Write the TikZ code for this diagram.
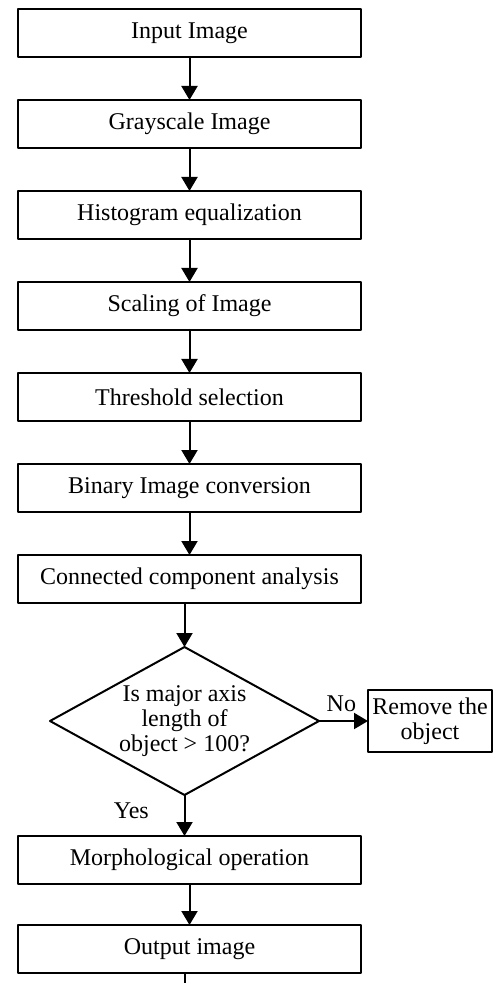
\documentclass[tikz,border=0pt]{standalone}
\usepackage{fontspec}
\setmainfont{Liberation Serif}
\usetikzlibrary{arrows.meta,positioning,shapes.geometric}

\begin{document}
\begin{tikzpicture}[line width=1pt, line cap=round, line join=round, >={Triangle[length=7pt,width=8pt]}, node distance=21.5pt,
    every node/.style={font=\fontsize{12pt}{12.5pt}\selectfont},
    procbox/.style={draw, rectangle, minimum width=171.5pt, minimum height=24pt, inner sep=0pt, outer sep=0pt},
    testbox/.style={draw, diamond, aspect=1.82, minimum width=134.5pt, minimum height=74pt, inner sep=0pt, outer sep=0pt, align=center},
    sidebox/.style={draw, rectangle, minimum width=62pt, minimum height=31pt, inner sep=0pt, outer sep=0pt, align=center}]
    \useasboundingbox (0pt, 0pt) rectangle (246.5pt, -491.5pt);
    % main chain
    \node[procbox] (input) at (94.75pt, -16.5pt) {Input Image};
    \node[procbox, below=of input] (gray) {Grayscale Image};
    \node[procbox, below=of gray] (histeq) {Histogram equalization};
    \node[procbox, below=of histeq] (scale) {Scaling of Image};
    \node[procbox, below=of scale] (thresh) {Threshold selection};
    \node[procbox, below=of thresh] (binary) {Binary Image conversion};
    \node[procbox, below=of binary] (comp) {Connected component analysis};
    \node[testbox, below=22pt of comp, xshift=-2.5pt] (dec) {Is major axis\\length of\\object > 100?};
    \node[sidebox, right=24.5pt of dec] (remove) {Remove the\\object};
    \node[procbox, below=20.5pt of dec, xshift=2.5pt] (morph) {Morphological operation};
    \node[procbox, below=20.5pt of morph] (out) {Output image};
    \coordinate[below=8pt of out.south -| dec.south] (tail);
    % labels
    \node[above right=1pt and 0pt of dec.east] (no) {No};
    \node[below left=0pt and 14pt of dec.south] (yes) {Yes};
    % connectors
    \draw[->] (input) -- (gray);
    \draw[->] (gray) -- (histeq);
    \draw[->] (histeq) -- (scale);
    \draw[->] (scale) -- (thresh);
    \draw[->] (thresh) -- (binary);
    \draw[->] (binary) -- (comp);
    \draw[->] (comp.south -| dec.north) -- (dec.north);
    \draw[->] (dec) -- (remove);
    \draw[->] (dec) -- (dec |- morph.north);
    \draw[->] (morph) -- (out);
    \draw (out.south -| tail) -- (tail);
\end{tikzpicture}
\end{document}
